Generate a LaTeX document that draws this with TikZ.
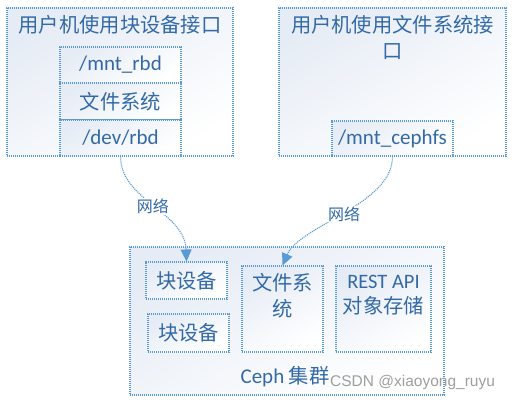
\documentclass[tikz,border=0pt]{standalone}
\usepackage{fontspec}
\setmainfont{Carlito}
\newfontfamily\cjk{Noto Sans CJK SC}
\newfontfamily\lat{Carlito}
\newfontfamily\wmfont{Liberation Sans}
\usetikzlibrary{arrows.meta}
\definecolor{lc}{HTML}{5B9BD5}
\definecolor{tc}{HTML}{336AA6}
\definecolor{bgc}{HTML}{E6ECF5}
\tikzset{
  box/.style={draw=lc, dash pattern=on 1.1pt off 0.9pt, line width=1.1pt,
    top color=bgc, bottom color=white, shading angle=30,
    inner sep=0pt, text=tc},
  lbl/.style={text=tc, inner sep=0pt, font=\cjk\fontsize{20.3}{25.5}\selectfont, align=center},
  conn/.style={draw=lc, dash pattern=on 1.1pt off 0.9pt, line width=1.1pt,
    -{Triangle[length=12pt,width=11pt,fill=lc]}},
  netlbl/.style={text=tc, fill=white, inner sep=1pt, font=\cjk\fontsize{16}{18}\selectfont},
}
\begin{document}
\begin{tikzpicture}[x=1pt,y=-1pt]
\useasboundingbox[fill=white] (0,0) rectangle (513,401);
% left user box
\node[box, minimum width=226pt, minimum height=148pt] (lbox) at (120,82) {};
\node[lbl] (ltitle) at (120,25) {用户机使用块设备接口};
\node[box, minimum width=121pt, minimum height=36pt, font=\lat\fontsize{21}{24}\selectfont] (mntrbd) at (120.5,65) {/mnt\_rbd};
\node[box, minimum width=121pt, minimum height=37pt, font=\cjk\fontsize{20.3}{24}\selectfont] (lfs) at (120.5,101.5) {文件系统};
\node[box, minimum width=121pt, minimum height=36pt, font=\lat\fontsize{21}{24}\selectfont] (devrbd) at (120.5,138) {/dev/rbd};
% right user box
\node[box, minimum width=227pt, minimum height=148pt] (rbox) at (392.5,82) {};
\node[lbl] (rtitle1) at (392.5,25) {用户机使用文件系统接};
\node[lbl] (rtitle2) at (392.5,52) {口};
\node[box, minimum width=121pt, minimum height=35pt, font=\lat\fontsize{21}{24}\selectfont] (cephfs) at (392.5,138.5) {/mnt\_cephfs};
% ceph cluster
\node[box, minimum width=314pt, minimum height=148pt] (ceph) at (287,321) {};
\node[box, minimum width=81pt, minimum height=37pt, font=\cjk\fontsize{20.3}{24}\selectfont] (blk1) at (186.5,280.5) {块设备};
\node[box, minimum width=81pt, minimum height=38pt, font=\cjk\fontsize{20.3}{24}\selectfont] (blk2) at (188.5,333) {块设备};
\node[box, minimum width=81pt, minimum height=86pt] (fs) at (282.5,309) {};
\node[lbl] (fstext) at (282.5,295.5) {文件系\\统};
\node[box, minimum width=95pt, minimum height=86pt] (rest) at (383.5,309) {};
\node[lbl] (resttext) at (383.5,295) {{\lat\fontsize{20.5}{25.5}\selectfont REST API}\\对象存储};
\node[lbl] (cephlbl) at (285,377) {{\lat\fontsize{21}{25}\selectfont Ceph} 集群};
% connectors
\draw[conn] (devrbd.south) .. controls (120.5,200) and (185,212) .. (blk1.north)
  node[netlbl, pos=0.5] (net1) {网络};
\draw[conn] (cephfs.south) .. controls (392.5,205) and (300,225) .. (fs.north)
  node[netlbl, pos=0.5] (net2) {网络};
% watermark
\node[text=gray!75, anchor=west, inner sep=0pt, font=\wmfont\fontsize{15.5}{18}\selectfont] (wm) at (330,382) {CSDN @xiaoyong\_ruyu};
\end{tikzpicture}
\end{document}
